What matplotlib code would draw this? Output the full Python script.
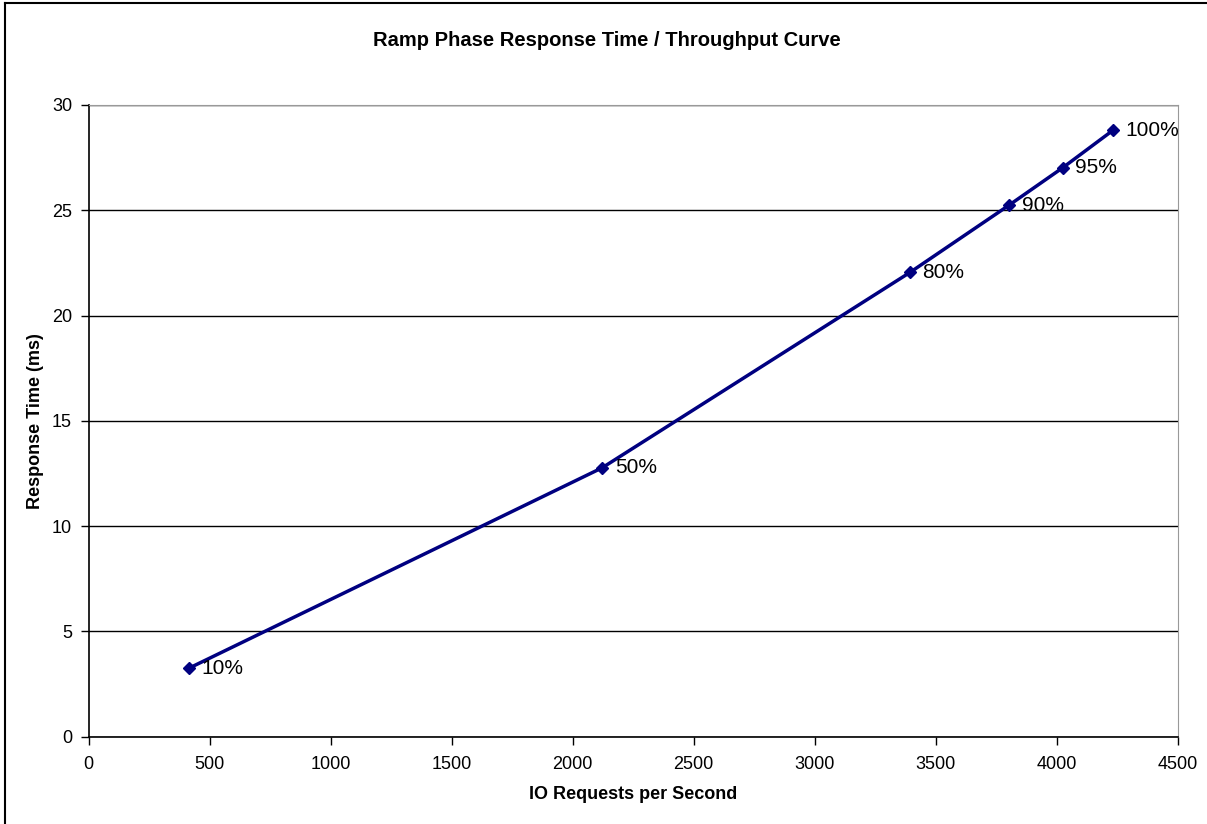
import matplotlib
matplotlib.use('Agg')

import matplotlib.pyplot as plt
from matplotlib.lines import Line2D

plt.rcParams['font.family'] = ['Liberation Sans', 'DejaVu Sans']

# данные
load_labels = ['10%', '50%', '80%', '90%', '95%', '100%']
io_rate = [414, 2122, 3394, 3803, 4025, 4234]
response_time = [3.25, 12.77, 22.05, 25.24, 27.02, 28.81]

fig = plt.figure(figsize=(12.07, 8.24), dpi=100)
ax = fig.add_axes([0.0735, 0.106, 0.9022, 0.7666])

ax.plot(io_rate, response_time, color='#000080', linewidth=2.5,
        marker='D', markersize=6, zorder=3)
for lbl, x, y in zip(load_labels, io_rate, response_time):
    ax.annotate(lbl, (x, y), xytext=(9, 0), textcoords='offset points',
                va='center', ha='left', fontsize=15, color='black')

ax.set_xlim(0, 4500)
ax.set_ylim(0, 30)
ax.set_xticks(range(0, 4501, 500))
ax.set_yticks(range(0, 31, 5))
ax.yaxis.grid(True, color='black', linewidth=1)
ax.set_axisbelow(True)
ax.tick_params(axis='both', labelsize=13, direction='out', length=6,
               width=1, pad=8)
ax.tick_params(axis='y', pad=6)

for side in ['top', 'right']:
    ax.spines[side].set_color('#999999')
for side in ['left', 'bottom']:
    ax.spines[side].set_color('black')
    ax.spines[side].set_linewidth(1.2)

ax.set_xlabel('IO Requests per Second', fontsize=13, fontweight='bold', labelpad=9)
ax.set_ylabel('Response Time (ms)', fontsize=13, fontweight='bold', labelpad=6)
fig.text(0.503, 0.951, 'Ramp Phase Response Time / Throughput Curve',
         ha='center', va='center', fontsize=14.5, fontweight='bold')

# рамка вокруг диаграммы
fig.add_artist(Line2D([5 / 1207, 5 / 1207], [0, 1 - 3 / 824], color='black',
                      linewidth=1.5, transform=fig.transFigure))
fig.add_artist(Line2D([5 / 1207, 1], [1 - 3 / 824, 1 - 3 / 824], color='black',
                      linewidth=1.5, transform=fig.transFigure))

fig.savefig('out.png', dpi=100)
